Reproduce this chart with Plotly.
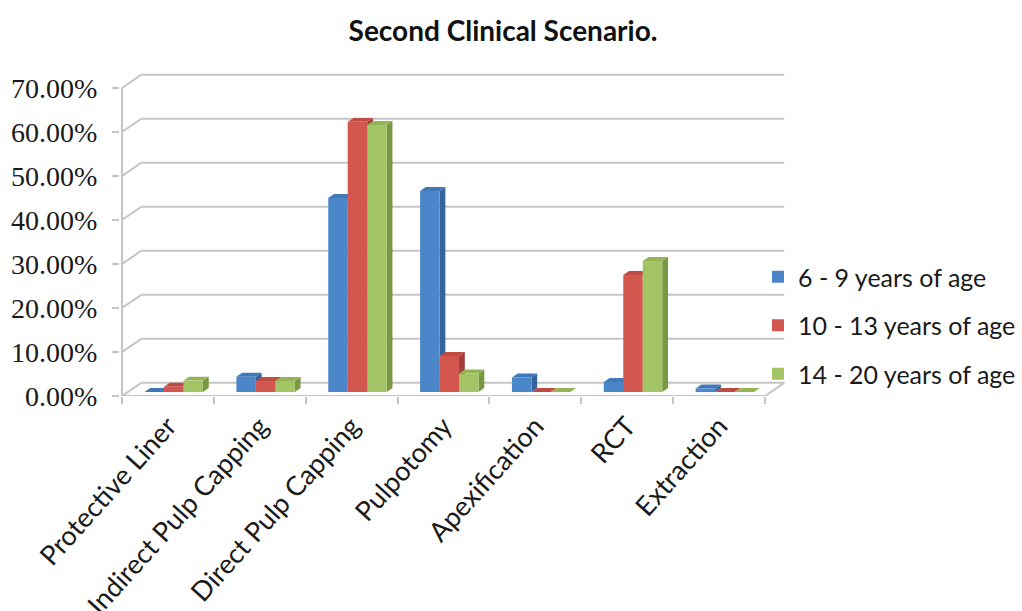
import plotly.graph_objects as go

# ---- data -------------------------------------------------------------
categories = ["Protective Liner", "Indirect Pulp Capping", "Direct Pulp Capping",
              "Pulpotomy", "Apexification", "RCT", "Extraction"]
series_names = ["6 - 9 years of age", "10 - 13 years of age", "14 - 20 years of age"]
age_6_9 = [0.0, 3.5, 44.1, 45.7, 3.3, 2.3, 0.8]
age_10_13 = [1.2, 2.5, 61.4, 8.2, 0.0, 26.6, 0.0]
age_14_20 = [2.6, 2.5, 60.7, 4.2, 0.0, 29.8, 0.0]
y_ticks = [0, 10, 20, 30, 40, 50, 60, 70]
y_tick_text = ["0.00%", "10.00%", "20.00%", "30.00%", "40.00%", "50.00%", "60.00%", "70.00%"]

series_values = [age_6_9, age_10_13, age_14_20]
front_colors = ["#4A86C8", "#D4574F", "#A2C464"]
side_colors = ["#34649E", "#A23E39", "#789843"]
top_colors = ["#4078BA", "#C04B45", "#93B556"]

# ---- pseudo-3D geometry (axis units) -----------------------------------
n_cat = len(categories)
depth_x, depth_y = 0.21, 3.0          # offset from front plane to back wall
bar_z0, bar_z1 = 0.3, 0.6             # bar slab position within the depth
bar_w = 0.212
group_w = 3 * bar_w
x_min, x_max = -0.0218, 7.381
y_min, y_max = 0.0, 76.36

front_dx, front_dy = bar_z0 * depth_x, bar_z0 * depth_y
slab_dx, slab_dy = (bar_z1 - bar_z0) * depth_x, (bar_z1 - bar_z0) * depth_y
bar_base = front_dy

# plot area in pixels (used for the legend placement)
pa_left, pa_right, pa_top, pa_bottom = 120, 800, 60, 396

fig = go.Figure()

# side and top faces of every bar, as filled polygons behind the fronts
for k, vals in enumerate(series_values):
    sx, sy, tx, ty = [], [], [], []
    for i, v in enumerate(vals):
        left = i + 0.5 + front_dx - group_w / 2 + k * bar_w
        right = left + bar_w
        top = bar_base + v
        sx += [right, right + slab_dx, right + slab_dx, right, right, None]
        sy += [bar_base, bar_base + slab_dy, top + slab_dy, top, bar_base, None]
        tx += [left, right, right + slab_dx, left + slab_dx, left, None]
        ty += [top, top, top + slab_dy, top + slab_dy, top, None]
    fig.add_trace(go.Scatter(x=sx, y=sy, mode="lines", fill="toself",
                             fillcolor=side_colors[k], line=dict(width=0),
                             showlegend=False, hoverinfo="skip"))
    fig.add_trace(go.Scatter(x=tx, y=ty, mode="lines", fill="toself",
                             fillcolor=top_colors[k], line=dict(width=0),
                             showlegend=False, hoverinfo="skip"))

# bar fronts on an overlaid axis so they sit above the side faces
centers = [i + 0.5 + front_dx for i in range(n_cat)]
for k, vals in enumerate(series_values):
    fig.add_trace(go.Bar(x=centers, y=vals, base=bar_base, name=series_names[k],
                         marker=dict(color=front_colors[k], line=dict(width=0)),
                         xaxis="x2", yaxis="y", legendgroup=str(k)))

# walls: back gridlines, left diagonals, floor
grid_col = "#C4C4C4"
shapes = []
for v in y_ticks:
    shapes.append(dict(type="line", x0=0, y0=v, x1=depth_x, y1=v + depth_y))
    shapes.append(dict(type="line", x0=depth_x, y0=v + depth_y,
                       x1=n_cat + depth_x, y1=v + depth_y))
shapes.append(dict(type="line", x0=0, y0=0, x1=0, y1=y_ticks[-1]))
shapes.append(dict(type="line", x0=0, y0=0, x1=n_cat, y1=0))
shapes.append(dict(type="line", x0=n_cat, y0=0, x1=n_cat + depth_x, y1=depth_y))
for s in shapes:
    s.update(xref="x", yref="y", layer="below", line=dict(color=grid_col, width=2))

pa_w = pa_right - pa_left
pa_h = pa_bottom - pa_top

fig.update_layout(
    width=1022, height=611,
    margin=dict(l=pa_left, r=1022 - pa_right, t=pa_top, b=611 - pa_bottom,
                autoexpand=False),
    paper_bgcolor="white", plot_bgcolor="rgba(0,0,0,0)",
    title=dict(text="<b>Second Clinical Scenario.</b>", x=503 / 1022, xanchor="center",
               y=1 - 31 / 611, yanchor="middle",
               font=dict(family="Lato", size=28, color="#111111")),
    barmode="group", bargap=0.364, bargroupgap=0,
    shapes=shapes,
    xaxis=dict(range=[x_min, x_max], showgrid=False, zeroline=False, showline=False,
               tickmode="array", tickvals=list(range(n_cat + 1)), ticks="outside",
               ticklen=7, tickwidth=2, tickcolor=grid_col, showticklabels=False),
    xaxis2=dict(range=[x_min, x_max], overlaying="x", anchor="y", side="bottom",
                showgrid=False, zeroline=False, showline=False,
                tickmode="array", tickvals=[i + 0.5 for i in range(n_cat)],
                ticktext=categories, ticks="", tickangle=-48, ticklabelstandoff=8,
                tickfont=dict(family="Lato", size=27, color="#1a1a1a")),
    yaxis=dict(range=[y_min, y_max], showgrid=False, zeroline=False, showline=False,
               tickmode="array", tickvals=y_ticks, ticktext=y_tick_text,
               ticks="outside", ticklen=7, tickwidth=2, tickcolor=grid_col,
               ticklabelstandoff=9,
               tickfont=dict(family="Liberation Serif", size=28, color="#1a1a1a")),
    legend=dict(x=(758 - pa_left) / pa_w, xanchor="left",
                y=(pa_bottom - 254) / pa_h, yanchor="top",
                bgcolor="rgba(0,0,0,0)", tracegroupgap=13,
                font=dict(family="Lato", size=25, color="#1a1a1a")),
)

fig.write_html("out.html")
